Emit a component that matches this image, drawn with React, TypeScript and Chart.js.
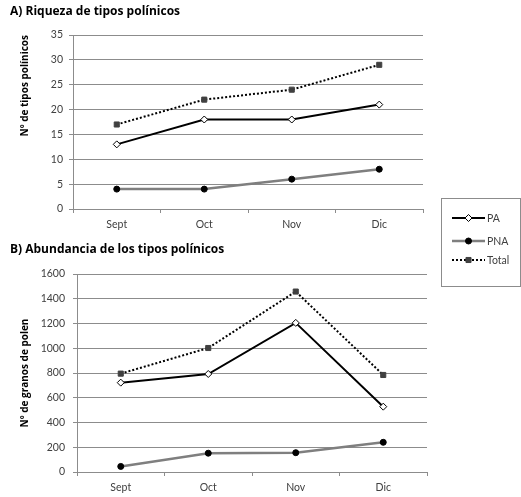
import React, { useEffect, useRef } from "react";
import { Chart, registerables } from "chart.js";
import { drawPoint } from "chart.js/helpers";

Chart.register(...registerables);

const months = ["Sept", "Oct", "Nov", "Dic"];
const seriesNames = ["PA", "PNA", "Total"];

const richnessPA = [13, 18, 18, 21];
const richnessPNA = [4, 4, 6, 8];
const richnessTotal = [17, 22, 24, 29];

const abundancePA = [722, 792, 1205, 528];
const abundancePNA = [45, 152, 156, 240];
const abundanceTotal = [795, 1002, 1458, 784];

const FONT = "Lato, 'Liberation Sans', sans-serif";
const TITLE_FONT = "'Open Sans', 'Liberation Sans', sans-serif";
const GRID = "#8c8c8c";
const TEXT = "#404040";

const seriesStyles: any[] = [
  {
    borderColor: "#000000",
    borderWidth: 2,
    pointStyle: "rectRot",
    pointRadius: 3.5,
    pointBackgroundColor: "#ffffff",
    pointBorderColor: "#000000",
    pointBorderWidth: 1,
  },
  {
    borderColor: "#7f7f7f",
    borderWidth: 2.5,
    pointStyle: "circle",
    pointRadius: 3,
    pointBackgroundColor: "#000000",
    pointBorderColor: "#000000",
    pointBorderWidth: 1,
  },
  {
    borderColor: "#000000",
    borderWidth: 2,
    borderDash: [2, 2],
    pointStyle: "rect",
    pointRadius: 3.6,
    pointBackgroundColor: "#404040",
    pointBorderColor: "#404040",
    pointBorderWidth: 1,
  },
];

function makeDatasets(values: number[][]) {
  return values.map((v, i) => ({
    label: seriesNames[i],
    data: v,
    tension: 0,
    fill: false,
    pointHoverRadius: 3.5,
    ...seriesStyles[i],
  }));
}

const legendPlugin = {
  id: "sharedLegend",
  afterDraw(chart: any) {
    const ctx = chart.ctx;
    ctx.save();
    ctx.strokeStyle = GRID;
    ctx.lineWidth = 1;
    ctx.setLineDash([]);
    ctx.strokeRect(441.5, 8.5, 79, 88);
    const ys = [28, 51, 70];
    chart.data.datasets.forEach((ds: any, i: number) => {
      const y = ys[i];
      ctx.beginPath();
      ctx.setLineDash(ds.borderDash || []);
      ctx.strokeStyle = ds.borderColor;
      ctx.lineWidth = ds.borderWidth;
      ctx.moveTo(452, y);
      ctx.lineTo(485, y);
      ctx.stroke();
      ctx.setLineDash([]);
      ctx.fillStyle = ds.pointBackgroundColor;
      ctx.strokeStyle = ds.pointBorderColor;
      ctx.lineWidth = ds.pointBorderWidth;
      drawPoint(
        ctx,
        { pointStyle: ds.pointStyle, radius: ds.pointRadius, rotation: 0, borderWidth: ds.pointBorderWidth } as any,
        468.5,
        y
      );
      ctx.fillStyle = TEXT;
      ctx.font = `10.5px ${FONT}`;
      ctx.textBaseline = "middle";
      ctx.textAlign = "left";
      ctx.fillText(ds.label, 487, y + 0.5);
    });
    ctx.restore();
  },
};

function buildConfig(opts: {
  title: string;
  titlePadTop: number;
  titlePadBottom: number;
  yTitle: string;
  yAlign: "start" | "center" | "end";
  yMax: number;
  yStep: number;
  yWidth: number;
  yTickPad: number;
  padRight: number;
  xHeight: number;
  values: number[][];
  plugins?: any[];
}) {
  return {
    type: "line",
    data: { labels: months, datasets: makeDatasets(opts.values) },
    plugins: opts.plugins || [],
    options: {
      animation: false,
      responsive: true,
      maintainAspectRatio: false,
      events: [],
      layout: { padding: { left: 10, top: 0, right: opts.padRight, bottom: 0 } },
      plugins: {
        legend: { display: false },
        tooltip: { enabled: false },
        title: {
          display: true,
          text: opts.title,
          align: "start",
          color: "#000000",
          font: { family: TITLE_FONT, size: 12, weight: "bold", lineHeight: 1.25 },
          padding: { top: opts.titlePadTop, bottom: opts.titlePadBottom },
        },
      },
      scales: {
        x: {
          type: "category",
          offset: true,
          grid: {
            display: true,
            drawOnChartArea: false,
            drawTicks: true,
            tickLength: 4,
            color: GRID,
            offset: true,
          },
          border: { display: true, color: GRID, width: 1 },
          ticks: { padding: 5, color: TEXT, font: { family: FONT, size: 10.5 } },
          afterFit: (s: any) => {
            s.height = opts.xHeight;
          },
        },
        y: {
          min: 0,
          max: opts.yMax,
          ticks: {
            stepSize: opts.yStep,
            padding: opts.yTickPad,
            color: TEXT,
            font: { family: FONT, size: 10.5 },
            callback: (v: any) => String(v),
          },
          grid: { color: GRID, lineWidth: 1, tickLength: 4, drawTicks: true },
          border: { display: true, color: GRID, width: 1 },
          title: {
            display: true,
            text: opts.yTitle,
            align: opts.yAlign,
            color: "#000000",
            font: { family: TITLE_FONT, size: 10, weight: "bold", lineHeight: 1.2 },
            padding: { top: 9, bottom: 0 },
          },
          afterFit: (s: any) => {
            s.width = opts.yWidth;
          },
        },
      },
    },
  };
}

function ChartBox({ top, height, config }: { top: number; height: number; config: any }) {
  const ref = useRef<HTMLCanvasElement>(null);
  useEffect(() => {
    if (!ref.current) return;
    const chart = new Chart(ref.current, config);
    return () => chart.destroy();
  }, [config]);
  return (
    <div style={{ position: "absolute", left: 0, top, width: 521, height }}>
      <canvas ref={ref} />
    </div>
  );
}

const topConfig = buildConfig({
  title: "A) Riqueza de tipos polínicos",
  titlePadTop: 4.5,
  titlePadBottom: 15.5,
  yTitle: "Nº de tipos polínicos",
  yAlign: "end",
  yMax: 35,
  yStep: 5,
  yWidth: 63,
  yTickPad: 6,
  padRight: 98,
  xHeight: 23,
  values: [richnessPA, richnessPNA, richnessTotal],
});

const bottomConfig = buildConfig({
  title: "B) Abundancia de los tipos polínicos",
  titlePadTop: 52.5,
  titlePadBottom: 16.5,
  yTitle: "Nº de granos de polen",
  yAlign: "center",
  yMax: 1600,
  yStep: 200,
  yWidth: 67,
  yTickPad: 8,
  padRight: 94,
  xHeight: 25,
  values: [abundancePA, abundancePNA, abundanceTotal],
  plugins: [legendPlugin],
});

export default function App() {
  return (
    <div style={{ position: "absolute", left: 0, top: 0, width: 521, height: 497, background: "#ffffff" }}>
      <ChartBox top={0} height={232} config={topConfig} />
      <ChartBox top={190} height={307} config={bottomConfig} />
    </div>
  );
}
